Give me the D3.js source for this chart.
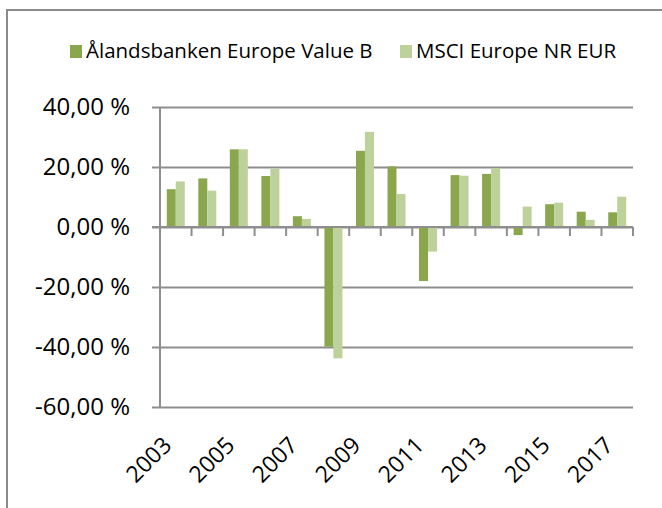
<!DOCTYPE html>
<html>
<head>
<meta charset="utf-8">
<title>fund vs index</title>
<script src="https://cdn.jsdelivr.net/npm/d3@7"></script>
<style>
  body { margin: 0; background: #fff; }
  svg text { font-family: "Open Sans", sans-serif; fill: #000; }
</style>
</head>
<body>
<svg id="chart" width="662" height="508"></svg>
<script>
// yearly returns, %
const years = ["2003","2004","2005","2006","2007","2008","2009","2010","2011","2012","2013","2014","2015","2016","2017"];
const seriesNames = ["Ålandsbanken Europe Value B", "MSCI Europe NR EUR"];
const fundValues = [12.6, 16.2, 25.9, 17.0, 3.6, -39.9, 25.4, 20.2, -18.0, 17.3, 17.7, -2.7, 7.6, 5.1, 4.9];
const indexValues = [15.2, 12.1, 25.9, 19.4, 2.7, -43.8, 31.7, 11.0, -8.2, 17.1, 19.6, 6.8, 8.1, 2.4, 10.1];
const yTicks = [-60, -40, -20, 0, 20, 40];
const xLabels = ["2003","2005","2007","2009","2011","2013","2015","2017"];

const colors = ["#8ba74e", "#bdd29b"];
const gridColor = "#8e8e8e";

const svg = d3.select("#chart");

// outer frame (runs off the right/bottom edge like the original)
svg.append("rect")
    .attr("x", 7).attr("y", 10)
    .attr("width", 700).attr("height", 600)
    .attr("fill", "none")
    .attr("stroke", "#8a8a8a")
    .attr("stroke-width", 2);

const plot = { left: 160, right: 633, top: 107, bottom: 407 };

const x0 = d3.scaleBand()
    .domain(years)
    .range([plot.left, plot.right])
    .paddingInner(0).paddingOuter(0);

const x1 = d3.scaleBand()
    .domain([0, 1])
    .range([0, x0.bandwidth()])
    .paddingInner(0).paddingOuter(0.75);

const y = d3.scaleLinear()
    .domain([-60, 40])
    .range([plot.bottom, plot.top]);

// horizontal gridlines + y labels
const yAxis = d3.axisLeft(y)
    .tickValues(yTicks)
    .tickSize(plot.right - plot.left + 8)
    .tickFormat(d => d3.format(".2f")(d).replace(".", ",").replace("\u2212", "-") + " %");

const yg = svg.append("g")
    .attr("transform", `translate(${plot.right},0)`)
    .call(yAxis);
yg.select(".domain").remove();
yg.selectAll(".tick line").attr("stroke", gridColor).attr("stroke-width", 2);
yg.selectAll(".tick text")
    .attr("x", -(plot.right - plot.left) - 30)
    .attr("text-anchor", "end")
    .style("font-size", "24px")
    .style("font-family", "'Open Sans', sans-serif");

// bars
const rows = years.map((yr, i) => ({ year: yr, vals: [fundValues[i], indexValues[i]] }));

svg.append("g")
  .selectAll("g")
  .data(rows)
  .join("g")
    .attr("transform", d => `translate(${x0(d.year)},0)`)
  .selectAll("rect")
  .data(d => d.vals.map((v, k) => ({ k, v })))
  .join("rect")
    .attr("x", d => x1(d.k))
    .attr("width", x1.bandwidth())
    .attr("y", d => y(Math.max(0, d.v)))
    .attr("height", d => Math.abs(y(d.v) - y(0)))
    .attr("fill", d => colors[d.k]);

// y axis line
svg.append("line")
    .attr("x1", plot.left).attr("x2", plot.left)
    .attr("y1", plot.top).attr("y2", plot.bottom + 1)
    .attr("stroke", gridColor).attr("stroke-width", 2);

// zero line with category tick marks
const zeroY = y(0);
svg.append("line")
    .attr("x1", plot.left - 8).attr("x2", plot.right)
    .attr("y1", zeroY).attr("y2", zeroY)
    .attr("stroke", gridColor).attr("stroke-width", 2);

const edges = years.map(d => x0(d)).concat([plot.right]);
svg.append("g")
  .selectAll("line")
  .data(edges)
  .join("line")
    .attr("x1", d => d).attr("x2", d => d)
    .attr("y1", zeroY).attr("y2", zeroY + 9)
    .attr("stroke", gridColor).attr("stroke-width", 2);

// rotated year labels
svg.append("g")
  .selectAll("text")
  .data(xLabels)
  .join("text")
    .attr("transform", d => `translate(${x0(d) + x0.bandwidth() / 2 - 8.5},${plot.bottom + 34}) rotate(-45)`)
    .attr("text-anchor", "end")
    .attr("dy", "0.35em")
    .style("font-size", "23px")
    .text(d => d);

// legend
const legend = svg.append("g");
const legendX = [70, 400];
seriesNames.forEach((name, i) => {
  legend.append("rect")
      .attr("x", legendX[i]).attr("y", 45)
      .attr("width", 12).attr("height", 13)
      .attr("fill", colors[i]);
  legend.append("text")
      .attr("x", legendX[i] + 16).attr("y", 58)
      .style("font-size", "20.5px")
      .text(name);
});
</script>
</body>
</html>
